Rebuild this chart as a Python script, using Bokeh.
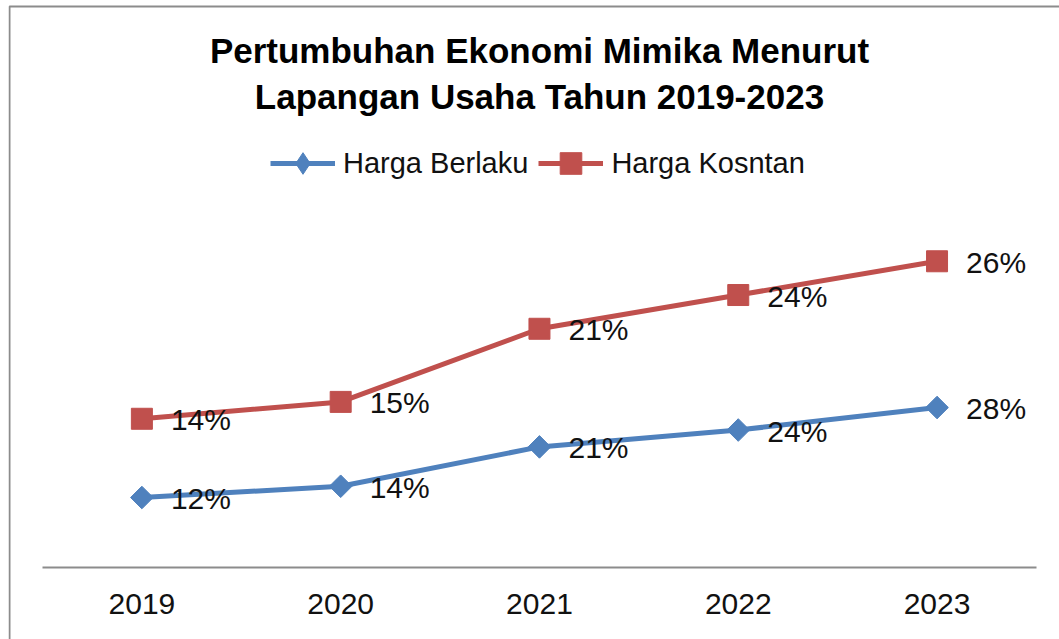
import math
from bokeh.plotting import figure
from bokeh.models import Range1d, Label, Legend, LegendItem, BoxAnnotation, FixedTicker
from bokeh.core.properties import value
from bokeh.embed import file_html
from bokeh.resources import INLINE

# ---- data ----
years = ["2019", "2020", "2021", "2022", "2023"]
harga_berlaku = [12, 14, 21, 24, 28]
harga_kosntan = [14, 15, 21, 24, 26]
series_names = ["Harga Berlaku", "Harga Kosntan"]
title_lines = ["Pertumbuhan Ekonomi Mimika Menurut", "Lapangan Usaha Tahun 2019-2023"]

x = [int(y) for y in years]
# stacked line chart: second series sits on top of the first
kosntan_top = [b + k for b, k in zip(harga_berlaku, harga_kosntan)]
berlaku_labels = [f"{v}%" for v in harga_berlaku]
kosntan_labels = [f"{v}%" for v in harga_kosntan]

BLUE = "#4F81BD"
RED = "#C0504D"
GREY = "#8c8c8c"
FONT = "Liberation Sans"
AXIS_BASE = -0.44

p = figure(
    width=1059, height=639,
    x_range=Range1d(x[0] - 0.671, x[-1] + 0.616),
    y_range=Range1d(-13.24, 100.36),
    output_backend="svg", toolbar_location=None,
    min_border_left=8, min_border_right=0,
    min_border_top=0, min_border_bottom=0,
)
p.outline_line_color = None
p.background_fill_color = "white"
p.border_fill_color = "white"
p.xgrid.visible = False
p.ygrid.visible = False
p.yaxis.visible = False

ax = p.xaxis[0]
ax.fixed_location = AXIS_BASE
ax.ticker = FixedTicker(ticks=x)
ax.major_label_overrides = {xi: y for xi, y in zip(x, years)}
ax.bounds = (x[0] - 0.5, x[-1] + 0.5)
ax.axis_line_color = GREY
ax.axis_line_width = 2
ax.major_tick_line_color = None
ax.minor_tick_line_color = None
ax.major_tick_out = 0
ax.major_label_standoff = 26
ax.major_label_text_font = FONT
ax.major_label_text_font_size = "30px"
ax.major_label_text_color = "#111111"

# chart border: only its top and left edges fall inside the picture
p.add_layout(BoxAnnotation(left=1, right=3000, top=633, bottom=-3000,
                           left_units="screen", right_units="screen",
                           top_units="screen", bottom_units="screen",
                           fill_alpha=0, line_color=GREY, line_alpha=1,
                           line_width=2))

# ---- series ----
l1 = p.line(x, harga_berlaku, line_color=BLUE, line_width=5)
m1 = p.scatter(x, harga_berlaku, marker="square", angle=math.pi / 4, size=16,
               fill_color=BLUE, line_color=BLUE)
l2 = p.line(x, kosntan_top, line_color=RED, line_width=5)
m2 = p.scatter(x, kosntan_top, marker="square", size=21,
               fill_color=RED, line_color=RED)
# legend-only diamond symbol for the first series
leg_diamond = p.scatter(x[:1], harga_berlaku[:1], marker="diamond", size=22,
                        fill_color=BLUE, line_color=BLUE, visible=False)

# data labels
for ys, labels in ((harga_berlaku, berlaku_labels), (kosntan_top, kosntan_labels)):
    p.text(x=x, y=ys, text=labels, x_offset=29, y_offset=1,
           text_align="left", text_baseline="middle",
           text_font=value(FONT), text_font_size="30px", text_color="#111111")

# ---- title (two centred lines at the top) ----
for line, sy in zip(title_lines, (589, 543)):
    p.add_layout(Label(x=531, y=sy, x_units="screen", y_units="screen",
                       text=line, text_align="center", text_baseline="middle",
                       text_font=FONT, text_font_size="35px",
                       text_font_style="bold", text_color="#000000"))

# ---- legend ----
legend = Legend(
    items=[LegendItem(label=series_names[0], renderers=[l1, leg_diamond]),
           LegendItem(label=series_names[1], renderers=[l2, m2])],
    orientation="horizontal", location=(262, 449),
    glyph_width=65, glyph_height=54, label_height=54,
    label_standoff=8, spacing=10, padding=0, margin=0,
    label_text_font=FONT, label_text_font_size="29px",
    label_text_color="#111111",
    border_line_color=None, background_fill_alpha=0,
)
p.add_layout(legend, "center")

open("out.html", "w").write(file_html(p, INLINE))
